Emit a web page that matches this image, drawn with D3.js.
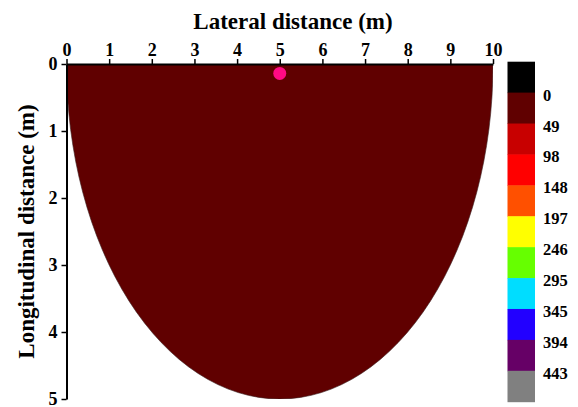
<!DOCTYPE html>
<html>
<head>
<meta charset="utf-8">
<script src="https://cdn.jsdelivr.net/npm/d3@7"></script>
<style>
  body { margin: 0; background: #fff; }
  text { font-family: "Liberation Serif", "Times New Roman", serif; font-weight: bold; fill: #000; }
</style>
</head>
<body>
<div id="chart"></div>
<script>
// axis ticks
const xTicks = [0, 1, 2, 3, 4, 5, 6, 7, 8, 9, 10];
const yTicks = [0, 1, 2, 3, 4, 5];

// field zone (semi-ellipse): centre lateral, half width, depth
const zoneCenter = [5];
const zoneHalfWidth = [5];
const zoneDepth = [5];
const zoneValue = [25];

// source point
const pointX = [5];
const pointY = [0.14];

// colour scale
const legendColors = ['#000000', '#600000', '#c80000', '#ff0000', '#ff5000', '#ffff00',
  '#66ff00', '#00ddff', '#2200ff', '#660066', '#808080'];
const legendLabels = [0, 49, 98, 148, 197, 246, 295, 345, 394, 443];

const width = 578;
const height = 407;

const svg = d3.select('#chart').append('svg')
  .attr('width', width)
  .attr('height', height);

const x = d3.scaleLinear().domain([0, 10]).range([66.5, 493]);
const y = d3.scaleLinear().domain([0, 5]).range([64, 399]);

const colorScale = d3.scaleThreshold()
  .domain(legendLabels)
  .range(legendColors);

svg.append('clipPath').attr('id', 'plot-clip')
  .append('rect')
  .attr('x', x(0)).attr('y', y(0))
  .attr('width', x(10) - x(0)).attr('height', y(5) - y(0));

// field
svg.append('g')
  .attr('clip-path', 'url(#plot-clip)')
  .selectAll('ellipse')
  .data(zoneCenter)
  .join('ellipse')
  .attr('cx', (d) => x(d))
  .attr('cy', y(0))
  .attr('rx', (d, i) => x(zoneHalfWidth[i]) - x(0))
  .attr('ry', (d, i) => y(zoneDepth[i]) - y(0))
  .attr('fill', (d, i) => colorScale(zoneValue[i]))
  .attr('stroke', '#3a2020')
  .attr('stroke-width', 0.6);

// source point
svg.append('g')
  .selectAll('circle')
  .data(pointX)
  .join('circle')
  .attr('cx', (d) => x(d))
  .attr('cy', (d, i) => y(pointY[i]))
  .attr('r', 6.5)
  .attr('fill', '#ff0a84');

// axes
const xAxis = svg.append('g')
  .attr('transform', `translate(0, ${y(0)})`)
  .call(d3.axisTop(x).tickValues(xTicks).tickSize(5).tickSizeOuter(0).tickFormat(d3.format('d')));

const yAxis = svg.append('g')
  .attr('transform', `translate(${x(0)}, 0)`)
  .call(d3.axisLeft(y).tickValues(yTicks).tickSize(5).tickSizeOuter(0).tickFormat(d3.format('d')));

[xAxis, yAxis].forEach((ax) => {
  ax.select('.domain').attr('stroke', '#000').attr('stroke-width', 2);
  ax.selectAll('.tick line').attr('stroke', '#000').attr('stroke-width', 1.5);
  ax.selectAll('.tick text')
    .style('font-family', '"Liberation Serif", "Times New Roman", serif')
    .style('font-weight', 'bold')
    .style('font-size', '18px')
    .attr('fill', '#000');
});
xAxis.selectAll('.tick text').attr('dy', '0').attr('y', -8);
yAxis.selectAll('.tick text').attr('x', -9).attr('dy', '0.32em');

// axis titles
svg.append('text')
  .attr('x', 293)
  .attr('y', 29)
  .attr('text-anchor', 'middle')
  .style('font-size', '23px')
  .text('Lateral distance (m)');

svg.append('text')
  .attr('transform', `translate(34, ${(y(0) + y(5)) / 2})  rotate(-90)`)
  .attr('text-anchor', 'middle')
  .style('font-size', '23px')
  .text('Longitudinal distance (m)');

// colour bar
const barTop = 61.7;
const barBottom = 401.7;
const barX = 507.5;
const barW = 27.5;
const band = d3.scaleBand()
  .domain(d3.range(legendColors.length))
  .range([barTop, barBottom])
  .padding(0);

const legend = svg.append('g');
legend.selectAll('rect')
  .data(legendColors)
  .join('rect')
  .attr('x', barX)
  .attr('y', (d, i) => band(i))
  .attr('width', barW)
  .attr('height', band.bandwidth() + 0.5)
  .attr('fill', (d) => d);

legend.selectAll('text')
  .data(legendLabels)
  .join('text')
  .attr('x', 543)
  .attr('y', (d, i) => band(i + 1) + 8)
  .style('font-size', '16.5px')
  .text((d) => d);
</script>
</body>
</html>
